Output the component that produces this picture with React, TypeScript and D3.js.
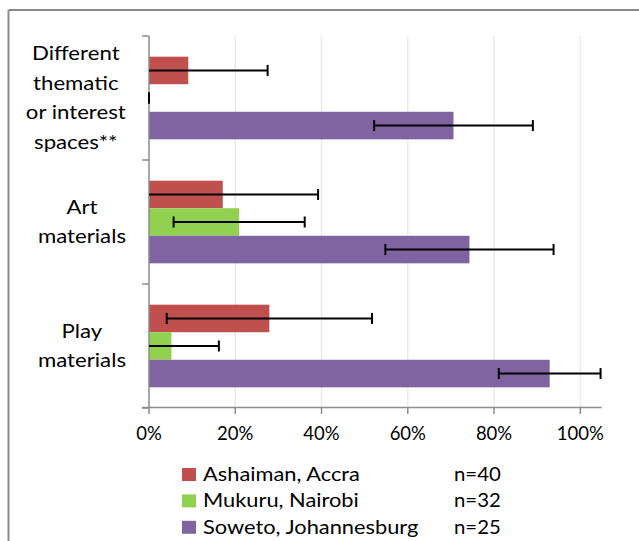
import React from "react";
import * as d3 from "d3";

// Categories, top to bottom, with their wrapped label lines
const categories = ["Different thematic or interest spaces**", "Art materials", "Play materials"];
const categoryLines = [
  ["Different", "thematic", "or interest", "spaces**"],
  ["Art", "materials"],
  ["Play", "materials"],
];

// Series (sites), sample sizes and colours
const seriesNames = ["Ashaiman, Accra", "Mukuru, Nairobi", "Soweto, Johannesburg"];
const sampleSizes = ["n=40", "n=32", "n=25"];
const seriesColors = ["#C0504D", "#92D050", "#8064A2"];

// Proportions per category and their error margins
const ashaimanValues = [0.091, 0.171, 0.279];
const ashaimanErrors = [0.184, 0.221, 0.238];
const mukuruValues = [0.0, 0.209, 0.052];
const mukuruErrors = [0.0, 0.152, 0.11];
const sowetoValues = [0.706, 0.743, 0.929];
const sowetoErrors = [0.184, 0.195, 0.118];

const xTicks = [0, 0.2, 0.4, 0.6, 0.8, 1.0];

const W = 639;
const H = 541;
const FONT = "Lato, 'Open Sans', sans-serif";
const FONT_SIZE = 18.5;
// horizontal stretch applied to the label and legend text
const LABEL_STRETCH = 1.2;

const valuesBySeries = [ashaimanValues, mukuruValues, sowetoValues];
const errorsBySeries = [ashaimanErrors, mukuruErrors, sowetoErrors];

function measure(text: string): number {
  const c = document.createElement("canvas").getContext("2d");
  if (!c) return text.length * 9;
  c.font = `${FONT_SIZE}px Lato`;
  return c.measureText(text).width;
}

function StretchedText(props: { x: number; y: number; s: number; children: React.ReactNode }) {
  return (
    <text transform={`translate(${props.x},${props.y}) scale(${props.s},1)`} fill="#000">
      {props.children}
    </text>
  );
}

export default function App() {
  const plotLeft = 149;
  const plotTop = 36;
  const plotBottom = 408;

  const x = d3.scaleLinear().domain([0, 1.05]).range([plotLeft, plotLeft + 431.3 * 1.05]);
  const y = d3.scaleBand<string>().domain(categories).range([plotTop, plotBottom]).padding(0);
  const inner = d3
    .scaleBand<string>()
    .domain(seriesNames)
    .range([0, y.bandwidth()])
    .paddingInner(0)
    .paddingOuter(0.75);

  const axisColor = "#8C8C8C";
  const gridColor = "#ECECE3";
  const xEnd = x(1.05);

  const bars: React.ReactNode[] = [];
  const errs: React.ReactNode[] = [];
  categories.forEach((cat, ci) => {
    seriesNames.forEach((s, si) => {
      const v = valuesBySeries[si][ci];
      const e = errorsBySeries[si][ci];
      const y0 = (y(cat) ?? 0) + (inner(s) ?? 0);
      const h = inner.bandwidth();
      if (v > 0) {
        bars.push(
          <rect
            key={`b-${ci}-${si}`}
            x={x(0)}
            y={y0}
            width={x(v) - x(0)}
            height={h}
            fill={seriesColors[si]}
          />
        );
      }
      const cy = y0 + h / 2;
      const lo = v - e;
      const x1 = x(Math.max(0, lo));
      const x2 = x(v + e);
      const cap = 5.5;
      errs.push(
        <g key={`e-${ci}-${si}`} stroke="#000" strokeWidth={2}>
          {x2 > x1 && <line x1={x1} x2={x2} y1={cy} y2={cy} />}
          {lo >= 0 && <line x1={x1} x2={x1} y1={cy - cap} y2={cy + cap} />}
          <line x1={x2} x2={x2} y1={cy - cap} y2={cy + cap} />
        </g>
      );
    });
  });

  const lineGap = 29.5;
  const labelRight = 126;

  return (
    <svg
      width={W}
      height={H}
      style={{ position: "absolute", left: 0, top: 0, background: "#fff" }}
      fontFamily={FONT}
      fontSize={FONT_SIZE}
    >
      <rect x={0} y={0} width={W} height={H} fill="#fff" />
      {/* outer frame: top and left edges */}
      <line x1={8.5} x2={W} y1={10} y2={10} stroke="#8A8A8A" strokeWidth={2} />
      <line x1={8.5} x2={8.5} y1={10} y2={H} stroke="#8A8A8A" strokeWidth={2} />

      {/* vertical gridlines */}
      {xTicks.slice(1).map((t) => (
        <line key={`g${t}`} x1={x(t)} x2={x(t)} y1={plotTop} y2={plotBottom - 1} stroke={gridColor} strokeWidth={1.5} />
      ))}

      {bars}

      {/* category axis */}
      <line x1={plotLeft} x2={plotLeft} y1={plotTop} y2={plotBottom} stroke={axisColor} strokeWidth={1.5} />
      {[...categories.map((c) => y(c) ?? 0), plotBottom].map((py, i) => (
        <line key={`ct${i}`} x1={plotLeft - 7} x2={plotLeft} y1={py} y2={py} stroke={axisColor} strokeWidth={1.5} />
      ))}

      {/* value axis */}
      <line x1={plotLeft - 7} x2={xEnd} y1={plotBottom - 0.5} y2={plotBottom - 0.5} stroke={axisColor} strokeWidth={1.5} />
      {xTicks.map((t) => (
        <line key={`xt${t}`} x1={x(t)} x2={x(t)} y1={plotBottom} y2={plotBottom + 6} stroke={axisColor} strokeWidth={1.5} />
      ))}
      {xTicks.map((t) => (
        <text key={`xl${t}`} x={x(t)} y={440} textAnchor="middle" fill="#000">
          {d3.format(".0%")(t)}
        </text>
      ))}

      {errs}

      {/* category labels */}
      {categories.map((c, ci) => {
        const lines = categoryLines[ci];
        const center = (y(c) ?? 0) + y.bandwidth() / 2;
        const maxW = Math.max(...lines.map(measure)) * LABEL_STRETCH;
        const cx = labelRight - maxW / 2;
        return (
          <g key={`cl${ci}`} transform={`translate(${cx},0) scale(${LABEL_STRETCH},1)`}>
            <text textAnchor="middle" fill="#000">
              {lines.map((ln, li) => (
                <tspan key={li} x={0} y={center + (li - (lines.length - 1) / 2) * lineGap + 6.5}>
                  {ln}
                </tspan>
              ))}
            </text>
          </g>
        );
      })}

      {/* legend */}
      {seriesNames.map((s, si) => {
        const top = 468 + si * 26.4;
        return (
          <g key={`lg${si}`}>
            <rect x={182} y={top} width={14} height={13} fill={seriesColors[si]} />
            <StretchedText x={203} y={top + 12.7} s={LABEL_STRETCH - 0.02}>
              {s}
            </StretchedText>
            <StretchedText x={454} y={top + 12.7} s={1.1}>
              {sampleSizes[si]}
            </StretchedText>
          </g>
        );
      })}
    </svg>
  );
}
